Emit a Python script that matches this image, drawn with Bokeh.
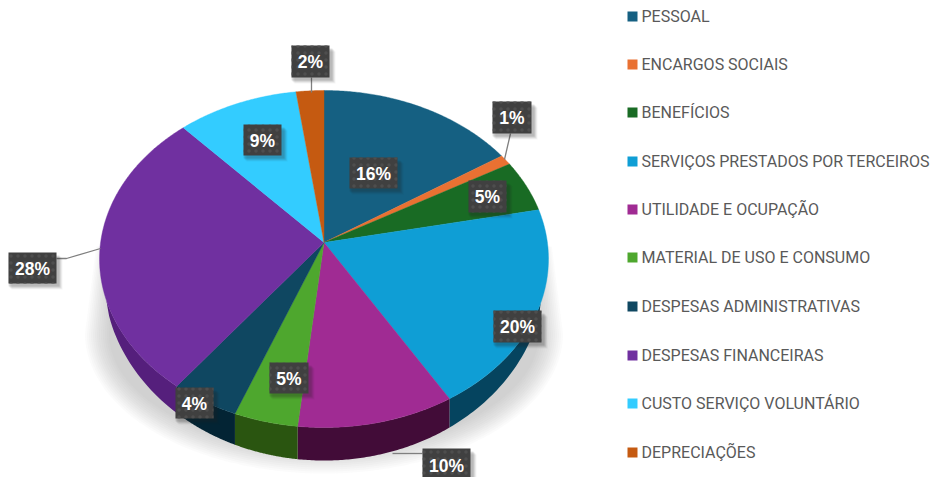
import numpy as np
from bokeh.plotting import figure
from bokeh.models import Range1d
from bokeh.embed import file_html
from bokeh.resources import INLINE
from bokeh.core.properties import value

categories = ["PESSOAL", "ENCARGOS SOCIAIS", "BENEFÍCIOS", "SERVIÇOS PRESTADOS POR TERCEIROS",
              "UTILIDADE E OCUPAÇÃO", "MATERIAL DE USO E CONSUMO", "DESPESAS ADMINISTRATIVAS",
              "DESPESAS FINANCEIRAS", "CUSTO SERVIÇO VOLUNTÁRIO", "DEPRECIAÇÕES"]
shares = [15.8, 1.0, 5.0, 19.6, 10.3, 4.2, 4.5, 27.8, 9.6, 2.2]
labels = ["16%", "1%", "5%", "20%", "10%", "5%", "4%", "28%", "9%", "2%"]
colors = ["#156082", "#E97132", "#196B24", "#0F9ED5", "#A02B93",
          "#4EA72E", "#0F4761", "#7030A0", "#33CCFF", "#C55A11"]
side_colors = ["#0c3a4e", "#8a431e", "#0f4016", "#05445f", "#420c38",
               "#2a5510", "#032434", "#551f7c", "#1f7a99", "#763509"]

# layout (pixels of the page)
W, H = 932, 477
HX, HY = 323.5, 242.0       # image of the pie's centre
RX0, RY0, PERSP = 223.4, 166.9, 0.0979
DEPTH, DEPTH_RX = 33.0, 216.5
BOX = [(349, 397, 157, 188), (492, 531, 101, 133), (468, 506, 180, 212),
       (493, 541, 310, 342), (422, 470, 448, 481), (269, 308, 362, 393),
       (175, 213, 387, 418), (8, 56, 252, 283), (243, 281, 124, 155), (291, 329, 45, 77)]
LEADERS = [([311, 311], [77, 92]), ([510, 504], [133, 159]),
           ([56, 66, 100], [258, 258, 248]), ([422, 392], [453, 453])]
LEGEND_Y = [16, 64, 112, 161, 209, 257, 306, 355, 403, 452]


def rim(theta):
    u, v = np.sin(theta), -np.cos(theta)
    w = 1 - PERSP * v
    return HX + RX0 * u / w, HY + RY0 * v / w


p = figure(width=W, height=H, output_backend="svg", toolbar_location=None,
           x_range=Range1d(0, W), y_range=Range1d(H, 0), min_border=0,
           margin=(0, 0, 0, 0), background_fill_color="white", border_fill_color="white",
           outline_line_color=None)
p.axis.visible = False
p.grid.visible = False

# soft shadow under the disc
t = np.linspace(0, np.pi, 120)
for grow in np.arange(14, -12, -2.0):
    sx = HX + (225 + grow) * np.cos(t)
    sy = 333 + (126 + grow) * np.sin(t)
    side = 218 + grow * 0.7
    xs = np.r_[HX + side, sx, HX - side]
    ys = np.r_[246, sy, 246]
    p.patch(xs, ys, fill_color="#808080", fill_alpha=0.036, line_color=None)

edges = np.cumsum([0] + shares) / sum(shares) * 2 * np.pi

# side of the disc
for i in range(len(shares)):
    th = np.linspace(edges[i], edges[i + 1], 80)
    x, y = rim(th)
    q = np.clip(np.abs(x - HX) / DEPTH_RX, 0, 1)
    depth = DEPTH * (1 - q ** 2) ** 0.33
    depth = np.where(np.cos(th) > 0, 0, depth)
    if depth.max() > 0:
        p.patch(np.r_[x, x[::-1]], np.r_[y, (y + depth)[::-1]], fill_color=side_colors[i],
                line_color=None)

# top of the disc
for i in range(len(shares)):
    th = np.linspace(edges[i], edges[i + 1], max(4, int(shares[i] * 8)))
    x, y = rim(th)
    p.patch(np.r_[HX, x], np.r_[HY, y], fill_color=colors[i], line_color=colors[i], line_width=0.4)

for lx, ly in LEADERS:
    p.line(lx, ly, line_color="#7f7f7f", line_width=1.3)

# data labels
l, r, t_, b = [np.array(a, dtype=float) for a in zip(*BOX)]
for off, alpha in [(6, .05), (5, .08), (4, .10), (3, .12)]:
    p.quad(left=l + off - 3, right=r + off, top=t_ + off, bottom=b + off,
           fill_color="#202020", fill_alpha=alpha, line_color=None)
p.quad(left=l, right=r, top=t_, bottom=b, fill_color="#404040", line_color=None,
       hatch_pattern="dot", hatch_color="#4e4e4e", hatch_scale=7, hatch_weight=0.7)
p.text((l + r) / 2, (t_ + b) / 2 + 0.5, text=labels, text_color="white", text_font=value("Liberation Sans"),
       text_font_style="bold", text_font_size="17.5px", text_align="center", text_baseline="middle")

# legend
ly = np.array(LEGEND_Y, dtype=float)
p.quad(left=[627] * 10, right=[637] * 10, top=ly - 5, bottom=ly + 5, fill_color=colors, line_color=None)
p.text([641] * 10, ly, text=categories, text_color="#595959", text_font=value("Roboto"),
       text_font_size="16px", text_align="left", text_baseline="middle")

open("out.html", "w").write(file_html(p, INLINE))
